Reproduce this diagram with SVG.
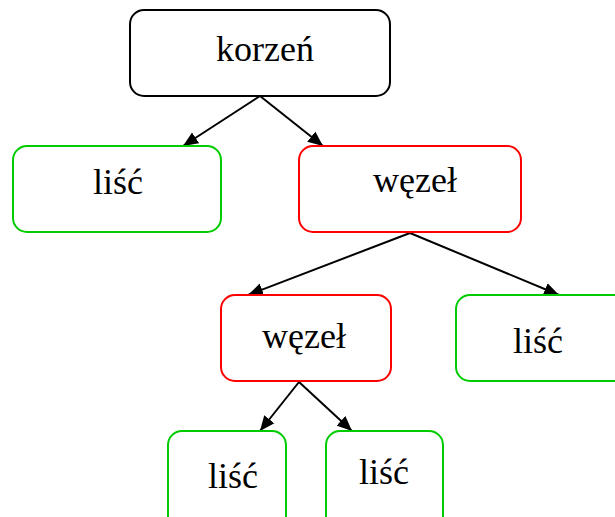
<svg xmlns="http://www.w3.org/2000/svg" width="615" height="517" viewBox="0 0 615 517">
<style>
.box{fill:#fff;stroke-width:2}
.root{stroke:#000}
.red{stroke:#ff0000}
.green{stroke:#00cc00}
text{font-family:'Liberation Serif','Times New Roman',serif;font-size:36px;fill:#000;text-anchor:middle}
.edge{stroke:#000;stroke-width:2;fill:none;marker-end:url(#ah)}
</style>
<defs>
<marker id="ah" markerUnits="userSpaceOnUse" markerWidth="16" markerHeight="14" refX="15" refY="7" orient="auto" viewBox="0 0 16 14">
<path d="M0,0.5 L15,7 L0,13.5 Z" fill="#000"/>
</marker>
</defs>
<g id="edges">
<line class="edge" x1="260" y1="96" x2="183" y2="146"/>
<line class="edge" x1="260" y1="96" x2="323" y2="146"/>
<line class="edge" x1="410" y1="233" x2="248" y2="295"/>
<line class="edge" x1="410" y1="233" x2="559" y2="295"/>
<line class="edge" x1="299" y1="382" x2="260" y2="431"/>
<line class="edge" x1="299" y1="382" x2="352" y2="431"/>
</g>
<g id="korzen">
<rect class="box root" x="130" y="10" width="260" height="86" rx="14"/>
<text x="265" y="61">korzeń</text>
</g>
<g id="lisc1">
<rect class="box green" x="13" y="146" width="208" height="86" rx="14"/>
<text x="118" y="194">liść</text>
</g>
<g id="wezel1">
<rect class="box red" x="299" y="146" width="222" height="86" rx="14"/>
<text x="415" y="192">węzeł</text>
</g>
<g id="wezel2">
<rect class="box red" x="221" y="295" width="170" height="86" rx="14"/>
<text x="304" y="348">węzeł</text>
</g>
<g id="lisc2">
<rect class="box green" x="456" y="295" width="172" height="86" rx="14"/>
<text x="538" y="353">liść</text>
</g>
<g id="lisc3">
<rect class="box green" x="168" y="431" width="118" height="110" rx="14"/>
<text x="233" y="488">liść</text>
</g>
<g id="lisc4">
<rect class="box green" x="326" y="431" width="117" height="110" rx="14"/>
<text x="384" y="484">liść</text>
</g>
</svg>
